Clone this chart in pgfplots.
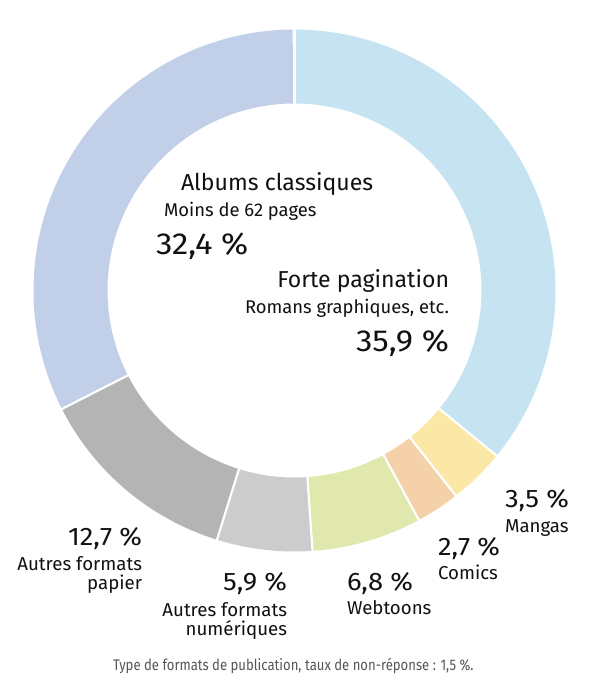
\documentclass[border=0pt]{standalone}
\usepackage{fontspec}
\setmainfont{Fira Sans}
\newfontfamily\numfont[FakeStretch=1.08]{Fira Sans}
\newfontfamily\footfont[FakeStretch=0.855]{Fira Sans}
\usepackage{pgfplots}
\pgfplotsset{compat=1.18}

% slice colours
\definecolor{cForte}{HTML}{C5E3F0}
\definecolor{cMangas}{HTML}{FBE8A6}
\definecolor{cComics}{HTML}{F4D1A8}
\definecolor{cWebtoons}{HTML}{E1E8AD}
\definecolor{cNum}{HTML}{CCCCCC}
\definecolor{cPapier}{HTML}{B4B4B4}
\definecolor{cAlbums}{HTML}{C1CFE8}
\definecolor{cFoot}{HTML}{555555}
\definecolor{cText}{HTML}{111111}

% ring geometry, in pixel units of the axis
\def\cx{294.5}
\def\cy{400.5}
\def\rmid{224}

% one slice: start (%), share (%), colour
\newcommand{\slice}[3]{%
  \pgfmathsetmacro{\ta}{90-3.6*(#1)}%
  \pgfmathsetmacro{\tb}{90-3.6*(#1+#2)}%
  \edef\doslice{\noexpand\addplot[draw=#3, line width=55.5pt, no markers,
    domain=\tb:\ta, samples=120] ({\cx+\rmid*cos(x)}, {\cy+\rmid*sin(x)});}%
  \doslice
}
% white gap at a boundary (%)
\newcommand{\gap}[1]{%
  \pgfmathsetmacro{\tg}{90-3.6*(#1)}%
  \edef\dogap{\noexpand\addplot[draw=white, line width=1.6pt, no markers,
    domain=180:270, samples=2] ({\cx+x*cos(\tg)}, {\cy+x*sin(\tg)});}%
  \dogap
}

\newcommand{\fbig}{\fontsize{17.3}{20}\selectfont}
\newcommand{\fsub}{\fontsize{13.8}{16}\selectfont}
\newcommand{\fpct}{\numfont\fontsize{22.8}{26}\selectfont}
\newcommand{\fout}{\numfont\fontsize{19}{22}\selectfont}
\newcommand{\fname}{\fontsize{14}{16}\selectfont}
\tikzset{lab/.style={inner sep=0pt, outer sep=0pt, text=cText}}

\begin{document}
\begin{tikzpicture}
\begin{axis}[
    x=0.75pt, y=0.75pt,
    xmin=0, xmax=600, ymin=0, ymax=691,
    enlargelimits=false,
    hide axis,
    clip=false
]
\path (rel axis cs:0,0) rectangle (rel axis cs:1,1);

\slice{0.0}{35.9}{cForte}
\slice{35.9}{3.5}{cMangas}
\slice{39.4}{2.7}{cComics}
\slice{42.1}{6.8}{cWebtoons}
\slice{48.9}{5.9}{cNum}
\slice{54.8}{12.7}{cPapier}
\slice{67.5}{32.4}{cAlbums}

\gap{0.0}
\gap{35.9}
\gap{39.4}
\gap{42.1}
\gap{48.9}
\gap{54.8}
\gap{67.5}

% centre labels
\node[lab, anchor=base west, font=\fbig] at (axis cs:181,500) {Albums classiques};
\node[lab, anchor=base west, font=\fsub] at (axis cs:164,474) {Moins de 62 pages};
\node[lab, anchor=base west, font=\fpct] at (axis cs:156,436) {32,4 \%};
\node[lab, anchor=base east, font=\fbig] at (axis cs:449,403) {Forte pagination};
\node[lab, anchor=base east, font=\fsub] at (axis cs:449,377) {Romans graphiques, etc.};
\node[lab, anchor=base east, font=\fpct] at (axis cs:449,339) {35,9 \%};

% outer labels
\node[lab, anchor=base west, font=\fout] at (axis cs:505,183) {3,5 \%};
\node[lab, anchor=base west, font=\fname] at (axis cs:505,158) {Mangas};
\node[lab, anchor=base west, font=\fout] at (axis cs:438,135) {2,7 \%};
\node[lab, anchor=base west, font=\fname] at (axis cs:438,111) {Comics};
\node[lab, anchor=base west, font=\fout] at (axis cs:347,100) {6,8 \%};
\node[lab, anchor=base west, font=\fname] at (axis cs:347,76) {Webtoons};
\node[lab, anchor=base east, font=\fout] at (axis cs:287,100) {5,9 \%};
\node[lab, anchor=base east, font=\fname] at (axis cs:287,74) {Autres formats};
\node[lab, anchor=base east, font=\fname] at (axis cs:287,55) {numériques};
\node[lab, anchor=base east, font=\fout] at (axis cs:142,145) {12,7 \%};
\node[lab, anchor=base east, font=\fname] at (axis cs:142,120) {Autres formats};
\node[lab, anchor=base east, font=\fname] at (axis cs:142,101) {papier};

% footnote
\node[lab, anchor=base west, font=\footfont\fontsize{11.5}{13}\selectfont, text=cFoot] at (axis cs:113,20)
  {Type de formats de publication, taux de non-réponse : 1,5 \%.};
\end{axis}
\end{tikzpicture}
\end{document}
